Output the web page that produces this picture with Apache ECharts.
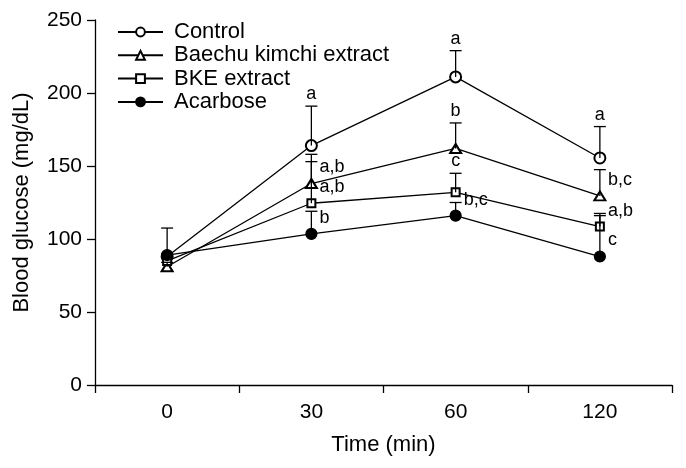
<!DOCTYPE html>
<html>
<head>
<meta charset="utf-8">
<script src="https://cdn.jsdelivr.net/npm/echarts@6/dist/echarts.min.js"></script>
<style>html,body{margin:0;padding:0;background:#fff}#c{width:686px;height:468px}</style>
</head>
<body>
<div id="c"></div>
<script>
const categories = ['0', '30', '60', '120'];
const seriesNames = ['Control', 'Baechu kimchi extract', 'BKE extract', 'Acarbose'];
const controlMean = [88, 164, 211, 155.5];
const controlTop = [90, 191, 229, 177];
const baechuMean = [81, 138, 162, 129.5];
const baechuTop = [84, 158, 179.5, 147.5];
const bkeMean = [85, 124.5, 132, 108.5];
const bkeTop = [88, 153, 145, 117.5];
const acarboseMean = [89, 103.5, 116, 88];
const acarboseTop = [107.5, 119, 125, 116];
const controlLetters = ['', 'a', 'a', 'a'];
const baechuLetters = ['', 'a,b', 'b', 'b,c'];
const bkeLetters = ['', 'a,b', 'c', 'a,b'];
const acarboseLetters = ['', 'b', 'b,c', 'c'];
const yTicks = [0, 50, 100, 150, 200, 250];

// layout (not data): where each letter sits
const controlPlace = ['', 'top', 'top', 'top'];
const baechuPlace = ['', 'right', 'top', 'right'];
const bkePlace = ['', 'right', 'top', 'right'];
const acarbosePlace = ['', 'right', 'right', 'right'];

const FONT = 'Liberation Sans, Arial, sans-serif';
const means = [controlMean, baechuMean, bkeMean, acarboseMean];
const tops = [controlTop, baechuTop, bkeTop, acarboseTop];
const letters = [controlLetters, baechuLetters, bkeLetters, acarboseLetters];
const places = [controlPlace, baechuPlace, bkePlace, acarbosePlace];
const symbols = ['emptyCircle', 'emptyTriangle', 'emptyRect', 'circle'];
const symbolSizes = [11, [11, 9], 8, 11];

const chart = echarts.init(document.getElementById('c'), null, {renderer: 'canvas'});

const series = [];
means.forEach((m, i) => {
  series.push({
    name: seriesNames[i], type: 'line', data: m,
    symbol: symbols[i], symbolSize: symbolSizes[i], showAllSymbol: true,
    lineStyle: {color: '#000', width: 1.3},
    itemStyle: {color: '#000', borderColor: '#000', borderWidth: 1.2},
    emphasis: {disabled: true}, z: 2
  });
});
means.forEach((m, i) => {
  series.push({
    type: 'custom', z: 3, silent: true,
    data: m.map((v, k) => [k, v, tops[i][k]]),
    renderItem: function (params, api) {
      const p0 = api.coord([api.value(0), api.value(1)]);
      const p1 = api.coord([api.value(0), api.value(2)]);
      const hw = 6;
      return {type: 'group', children: [
        {type: 'line', shape: {x1: p0[0], y1: p0[1], x2: p1[0], y2: p1[1]}, style: {stroke: '#000', lineWidth: 1.3}},
        {type: 'line', shape: {x1: p1[0] - hw, y1: p1[1], x2: p1[0] + hw, y2: p1[1]}, style: {stroke: '#000', lineWidth: 1.3}}
      ]};
    }
  });
});
// letters
means.forEach((m, i) => {
  series.push({
    type: 'custom', z: 4, silent: true,
    data: m.map((v, k) => [k, v, tops[i][k]]),
    renderItem: function (params, api) {
      const k = params.dataIndex;
      const txt = letters[i][k];
      if (!txt) return null;
      if (places[i][k] === 'top') {
        const p = api.coord([api.value(0), api.value(2)]);
        return {type: 'text', x: p[0], y: p[1] - 3, style: {text: txt, font: '18px ' + FONT, fill: '#000', align: 'center', verticalAlign: 'bottom'}};
      }
      const p = api.coord([api.value(0), api.value(1)]);
      return {type: 'text', x: p[0] + 8, y: p[1] - 16, style: {text: txt, font: '18px ' + FONT, fill: '#000', align: 'left', verticalAlign: 'middle'}};
    }
  });
});

chart.setOption({
  animation: false,
  textStyle: {fontFamily: FONT},
  grid: {left: 95, right: 14, top: 20, bottom: 83, containLabel: false},
  legend: {
    orient: 'vertical', left: 112, top: 16, itemGap: 1.3, itemWidth: 45, itemHeight: 11,
    data: seriesNames,
    textStyle: {fontSize: 22, color: '#000', fontFamily: FONT, lineHeight: 22, padding: [0, 0, 0, 6]}
  },
  xAxis: {
    type: 'category', data: categories, boundaryGap: true,
    name: 'Time (min)', nameLocation: 'middle', nameGap: 49,
    nameTextStyle: {fontSize: 22, color: '#000', fontFamily: FONT},
    axisLine: {lineStyle: {color: '#000', width: 1.3}},
    axisTick: {show: true, inside: false, length: 8, lineStyle: {color: '#000', width: 1.3}},
    axisLabel: {fontSize: 21, color: '#000', margin: 17, fontFamily: FONT},
    splitLine: {show: false}
  },
  yAxis: {
    type: 'value', min: 0, max: 250, interval: 50,
    name: 'Blood glucose (mg/dL)', nameLocation: 'middle', nameGap: 62, nameRotate: 90,
    nameTextStyle: {fontSize: 22, color: '#000', fontFamily: FONT},
    axisLine: {show: true, lineStyle: {color: '#000', width: 1.3}},
    axisTick: {show: true, inside: false, length: 8, lineStyle: {color: '#000', width: 1.3}},
    axisLabel: {fontSize: 21, color: '#000', margin: 13, fontFamily: FONT,
      formatter: v => yTicks.indexOf(v) >= 0 ? String(v) : ''},
    splitLine: {show: false}
  },
  series: series
});
</script>
</body>
</html>
